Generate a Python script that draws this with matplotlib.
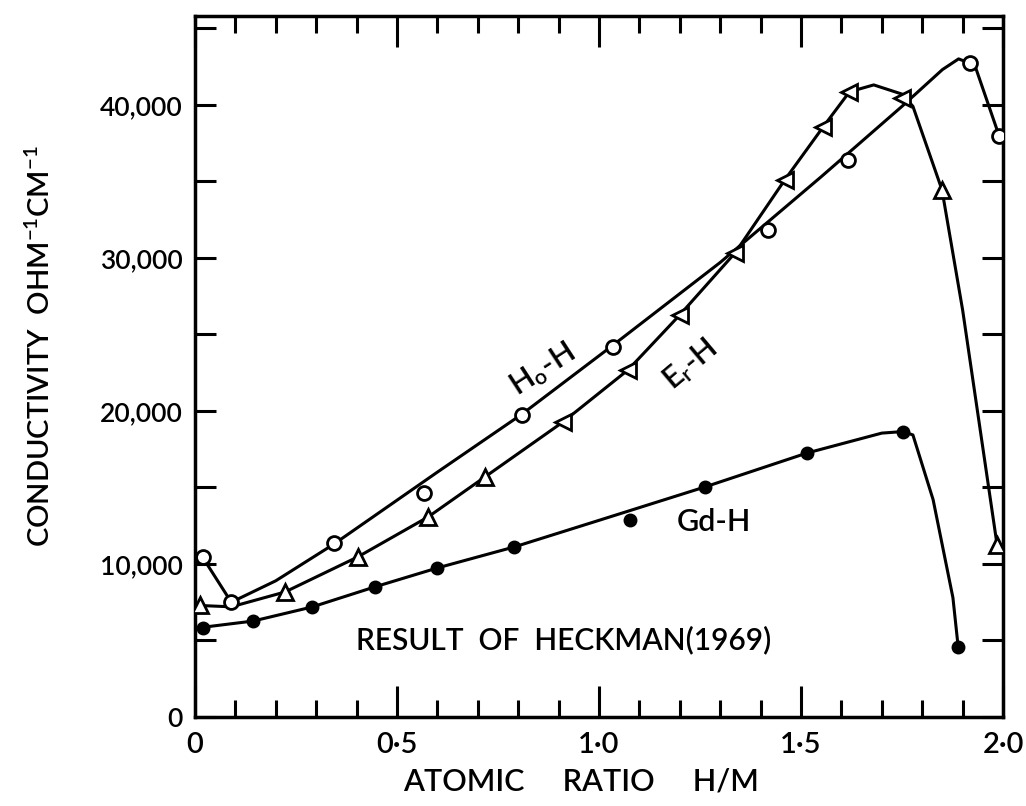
import matplotlib
matplotlib.use('Agg')
import matplotlib.pyplot as plt
from matplotlib.ticker import MultipleLocator, FuncFormatter

plt.rcParams['font.family'] = ['Lato', 'DejaVu Sans']
plt.rcParams['font.weight'] = 'semibold'
plt.rcParams['mathtext.fontset'] = 'custom'
plt.rcParams['mathtext.rm'] = 'Lato:semibold'
plt.rcParams['mathtext.it'] = 'Lato:semibold'

# measured points
ho_x = [0.02, 0.09, 0.344, 0.567, 0.81, 1.035, 1.418, 1.616, 1.918, 1.99]
ho_y = [10460, 7500, 11370, 14640, 19740, 24180, 31830, 36400, 42740, 37970]

er_x = [0.012, 0.223, 0.403, 0.577, 0.718, 0.911, 1.072, 1.2, 1.337, 1.46,
        1.555, 1.62, 1.75, 1.849, 1.985]
er_y = [7320, 8170, 10460, 13070, 15690, 19280, 22680, 26270, 30330, 35100,
        38560, 40850, 40460, 34440, 11240]

gd_x = [0.02, 0.144, 0.29, 0.445, 0.6, 0.79, 1.077, 1.262, 1.515, 1.752, 1.889]
gd_y = [5800, 6270, 7190, 8500, 9740, 11110, 12880, 15030, 17250, 18630, 4580]

# hand-drawn fitted curves
ho_fit_x = [0.0, 0.02, 0.09, 0.2, 0.344, 0.6, 0.81, 1.035, 1.3, 1.55, 1.75, 1.85, 1.89, 1.93, 1.99]
ho_fit_y = [10600, 10400, 7500, 8900, 11300, 16000, 19800, 24300, 29700, 35300, 39900, 42300, 43000, 42600, 38000]

er_fit_x = [0.0, 0.09, 0.223, 0.403, 0.577, 0.718, 0.911, 1.072, 1.2, 1.337, 1.46,
            1.555, 1.62, 1.68, 1.75, 1.777, 1.849, 1.9, 1.985]
er_fit_y = [7300, 7200, 8170, 10460, 13070, 15690, 19280, 22680, 26270, 30330, 35100,
            38560, 40850, 41300, 40700, 39900, 34440, 26600, 11300]

gd_fit_x = [0.0, 0.144, 0.29, 0.445, 0.6, 0.79, 1.0, 1.262, 1.515, 1.7, 1.752, 1.777, 1.827, 1.876, 1.889]
gd_fit_y = [5800, 6270, 7190, 8500, 9740, 11110, 12850, 15030, 17250, 18550, 18650, 18430, 14200, 7800, 4580]

x_ticks = [0, 0.5, 1.0, 1.5, 2.0]
x_tick_labels = ['0', '0·5', '1·0', '1·5', '2·0']
y_ticks = [0, 10000, 20000, 30000, 40000]

fig = plt.figure(figsize=(10.26, 8.06), dpi=100)
ax = fig.add_axes([0.190, 0.1104, 0.7876, 0.8697])

lw = 2.2
ax.plot(ho_fit_x, ho_fit_y, color='black', lw=lw, zorder=2)
ax.plot(er_fit_x, er_fit_y, color='black', lw=lw, zorder=2)
ax.plot(gd_fit_x, gd_fit_y, color='black', lw=lw, zorder=2)

ax.plot(ho_x, ho_y, 'o', ms=10, mfc='white', mec='black', mew=2, zorder=3)
for x, y in zip(er_x, er_y):
    m = '<' if 0.85 < x < 1.8 else '^'
    ax.plot(x, y, m, ms=11, mfc='white', mec='black', mew=2, zorder=3)
ax.plot(gd_x, gd_y, 'o', ms=9, mfc='black', mec='black', zorder=3)

ax.set_xlim(0, 2.0)
ax.set_ylim(0, 45800)
ax.set_xticks(x_ticks)
ax.set_xticklabels(x_tick_labels)
ax.xaxis.set_minor_locator(MultipleLocator(0.1))
ax.set_yticks(y_ticks)
ax.yaxis.set_major_formatter(FuncFormatter(lambda v, p: '0' if v == 0 else f'{int(v):,}'))
ax.yaxis.set_minor_locator(MultipleLocator(5000))

ax.tick_params(axis='both', which='both', direction='in', top=True, right=True,
               width=2.2)
ax.tick_params(axis='x', which='major', length=22, pad=11, labelsize=21)
ax.tick_params(axis='x', which='minor', length=12)
ax.tick_params(axis='y', which='both', length=15, pad=9, labelsize=19)
for s in ax.spines.values():
    s.set_linewidth(2.5)

ax.text(0.86, 22700, 'H$_\\mathrm{o}$-H', fontsize=22, rotation=33,
        ha='center', va='center')
ax.text(1.225, 23000, 'E$_\\mathrm{r}$-H', fontsize=22, rotation=40,
        ha='center', va='center')
ax.text(1.285, 12740, 'Gd-H', fontsize=22, ha='center', va='center')
ax.text(0.913, 5030, 'RESULT  OF  HECKMAN(1969)', fontsize=21.5, ha='center', va='center')

fig.text(0.566, 0.030, 'ATOMIC     RATIO     H/M', fontsize=22, ha='center', va='center')
fig.text(0.039, 0.57, 'CONDUCTIVITY  OHM$^{-1}$CM$^{-1}$', fontsize=21,
         rotation=90, ha='center', va='center')

fig.savefig('out.png', dpi=100)
plt.close(fig)
